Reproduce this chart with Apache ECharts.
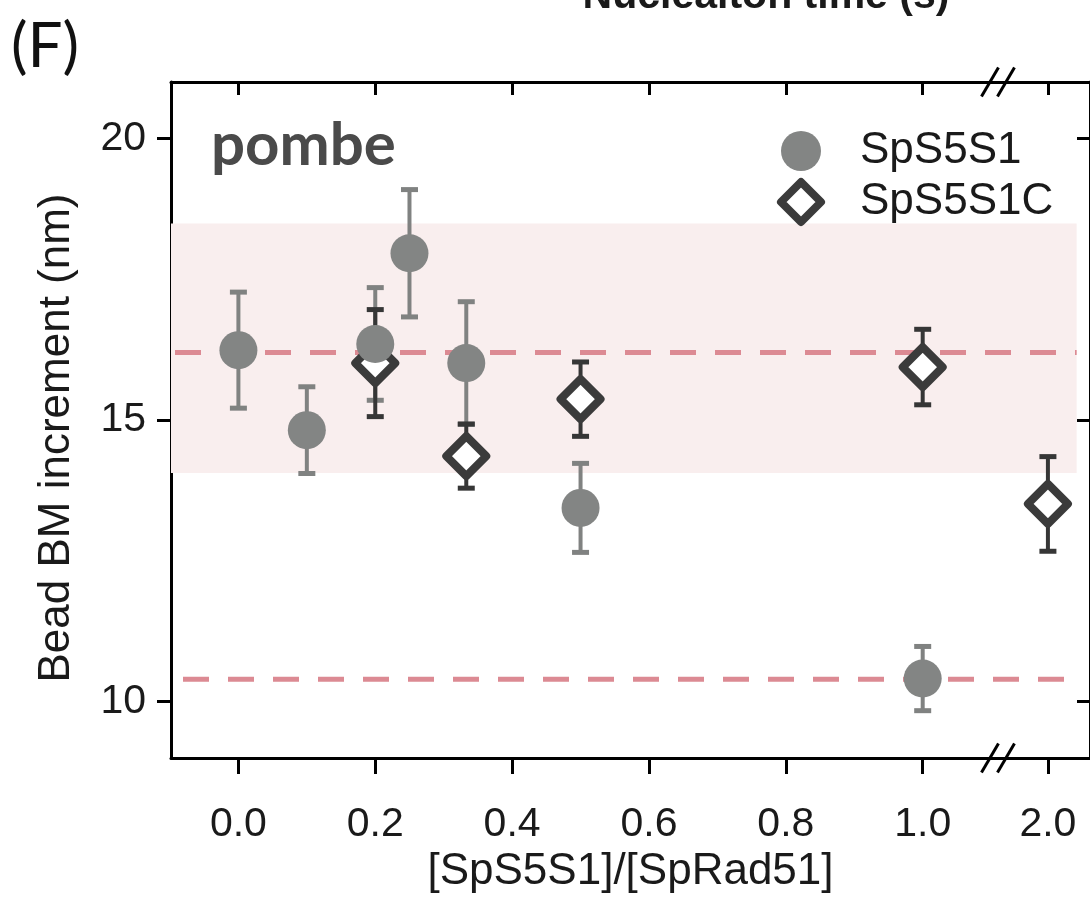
<!DOCTYPE html>
<html>
<head>
<meta charset="utf-8">
<script src="https://cdn.jsdelivr.net/npm/echarts@6/dist/echarts.min.js"></script>
<style>
  html, body { margin: 0; padding: 0; background: #ffffff; }
  #chart { width: 1090px; height: 902px; }
</style>
</head>
<body>
<div id="chart"></div>
<script>
// ---- data ----
const xTickValues = [0.0, 0.2, 0.4, 0.6, 0.8, 1.0, 2.0];
const yTickValues = [10, 15, 20];

const sps5s1X   = [0.0, 0.1, 0.2, 0.25, 0.333, 0.5, 1.0];
const sps5s1Y   = [16.24, 14.82, 16.35, 17.96, 16.01, 13.44, 10.41];
const sps5s1Err = [1.03, 0.77, 1.00, 1.13, 1.09, 0.79, 0.57];

const sps5s1cX   = [0.2, 0.333, 0.5, 1.0, 2.0];
const sps5s1cY   = [16.01, 14.36, 15.37, 15.94, 13.51];
const sps5s1cErr = [0.95, 0.57, 0.66, 0.67, 0.84];

const referenceLines = [16.2, 10.4];
const referenceBand  = [14.06, 18.49];

// ---- broken x axis: [0, 1] is linear, then the axis jumps to 2.0 ----
const X_MIN = -0.0985;
const X_MAX = 1.2445;
const SECOND_SEGMENT_AT = 1.183;   // axis position of the value 2.0
const BREAK_MARK_AT = 1.110;       // axis position of the "//" marks
const BAND_END = 2.042;            // right end of band and reference lines
function axisX(v) { return v <= 1 ? v : SECOND_SEGMENT_AT + (v - 2); }
function axisLabelOf(pos) {
  for (const v of xTickValues) { if (Math.abs(axisX(v) - pos) < 1e-6) return v.toFixed(1); }
  return '';
}
const xTickPositions = xTickValues.map(axisX);

const FONT = '"Liberation Sans", Arial, sans-serif';

function errorData(xs, ys, es) {
  return xs.map((x, i) => [axisX(x), ys[i] - es[i], ys[i] + es[i]]);
}
function pointData(xs, ys) {
  return xs.map((x, i) => [axisX(x), ys[i]]);
}

function errorBarRenderer(color) {
  return function (params, api) {
    const top = api.coord([api.value(0), api.value(2)]);
    const bot = api.coord([api.value(0), api.value(1)]);
    const cap = 8.5;
    const style = { stroke: color, lineWidth: 4 };
    return {
      type: 'group',
      children: [
        { type: 'line', shape: { x1: top[0], y1: top[1], x2: bot[0], y2: bot[1] }, style },
        { type: 'line', shape: { x1: top[0] - cap, y1: top[1], x2: top[0] + cap, y2: top[1] }, style: { stroke: color, lineWidth: 5 } },
        { type: 'line', shape: { x1: bot[0] - cap, y1: bot[1], x2: bot[0] + cap, y2: bot[1] }, style: { stroke: color, lineWidth: 5 } }
      ]
    };
  };
}

const chart = echarts.init(document.getElementById('chart'), null, { renderer: 'canvas' });

const option = {
  backgroundColor: '#ffffff',
  animation: false,
  grid: { left: 171, right: -1, top: 82, bottom: 144, containLabel: false },
  xAxis: [
    {
      type: 'value', position: 'bottom', min: X_MIN, max: X_MAX,
      name: '[SpS5S1]/[SpRad51]', nameLocation: 'middle', nameGap: 70,
      nameTextStyle: { fontSize: 44, fontFamily: FONT, color: '#1a1a1a' },
      axisLine: { show: true, onZero: false, lineStyle: { color: '#000', width: 3 } },
      axisTick: { show: true, inside: false, length: 16, customValues: xTickPositions, lineStyle: { color: '#000', width: 3 } },
      axisLabel: { show: true, margin: 46, fontSize: 41, fontFamily: FONT, color: '#1a1a1a',
                   customValues: xTickPositions, formatter: axisLabelOf },
      splitLine: { show: false }
    },
    {
      type: 'value', position: 'top', min: X_MIN, max: X_MAX,
      axisLine: { show: true, onZero: false, lineStyle: { color: '#000', width: 3 } },
      axisTick: { show: true, inside: true, length: 13, customValues: xTickPositions, lineStyle: { color: '#000', width: 3 } },
      axisLabel: { show: false },
      splitLine: { show: false }
    }
  ],
  yAxis: [
    {
      type: 'value', position: 'left', min: 9, max: 21,
      name: 'Bead BM increment (nm)', nameLocation: 'middle', nameGap: 92,
      nameTextStyle: { fontSize: 44, fontFamily: FONT, color: '#1a1a1a', padding: [0, 36, 0, 0] },
      axisLine: { show: true, onZero: false, lineStyle: { color: '#000', width: 3 } },
      axisTick: { show: true, inside: false, length: 14, customValues: yTickValues, lineStyle: { color: '#000', width: 3 } },
      axisLabel: { show: true, margin: 25, fontSize: 41, fontFamily: FONT, color: '#1a1a1a', customValues: yTickValues },
      splitLine: { show: false }
    },
    {
      type: 'value', position: 'right', min: 9, max: 21,
      axisLine: { show: true, onZero: false, lineStyle: { color: '#000', width: 3 } },
      axisTick: { show: true, inside: true, length: 13, customValues: yTickValues, lineStyle: { color: '#000', width: 3 } },
      axisLabel: { show: false },
      splitLine: { show: false }
    }
  ],
  legend: {
    orient: 'vertical', left: 777, top: 129, padding: 0,
    itemWidth: 40, itemHeight: 40, itemGap: 5,
    textStyle: { fontSize: 44, fontFamily: FONT, color: '#1a1a1a', padding: [0, 0, 0, 34] },
    data: [
      { name: 'SpS5S1' },
      { name: 'SpS5S1C', itemStyle: { borderWidth: 8, borderColor: '#3b3b3b', color: '#ffffff' } }
    ]
  },
  graphic: [
    { type: 'text', left: 11, top: 16, style: { text: '(F)', font: '62px Lato, "Open Sans", sans-serif', fill: '#111' } },
    { type: 'text', x: 211, y: 176, style: { text: 'pombe', font: 'bold 60px Lato, "Open Sans", sans-serif', fill: '#4a4a4a', verticalAlign: 'bottom' } },
    { type: 'text', x: 766, y: -3, style: { text: 'Nucleaiton time (s)', font: 'bold 41px ' + FONT, fill: '#1a1a1a', align: 'center', verticalAlign: 'middle' } }
  ],
  series: [
    {
      // shaded reference band
      type: 'custom', name: 'band', silent: true, z: 1,
      data: [[X_MIN, referenceBand[0], axisX(BAND_END), referenceBand[1]]],
      renderItem: function (params, api) {
        const p0 = api.coord([api.value(0), api.value(1)]);
        const p1 = api.coord([api.value(2), api.value(3)]);
        return { type: 'rect', shape: { x: p0[0], y: p1[1], width: p1[0] - p0[0], height: p0[1] - p1[1] },
                 style: { fill: '#f9eeee' } };
      }
    },
    {
      // dashed reference levels
      type: 'custom', name: 'levels', silent: true, z: 2,
      data: referenceLines.map((v, i) => [X_MIN, axisX(BAND_END), v, i]),
      renderItem: function (params, api) {
        const a = api.coord([api.value(0), api.value(2)]);
        const b = api.coord([api.value(1), api.value(2)]);
        return { type: 'line', shape: { x1: a[0] + 1, y1: a[1], x2: b[0], y2: b[1] },
                 style: { stroke: '#dc8a93', lineWidth: 5, lineDash: [26, 19], lineDashOffset: api.value(3) === 0 ? 42 : 34 } };
      }
    },
    {
      // axis break marks
      type: 'custom', name: 'breaks', silent: true, z: 10,
      data: [[BREAK_MARK_AT]],
      renderItem: function (params, api) {
        const cs = params.coordSys;
        const cx = api.coord([api.value(0), 15])[0];
        const kids = [];
        [cs.y, cs.y + cs.height].forEach(function (yy) {
          [-8, 8].forEach(function (off) {
            kids.push({ type: 'line', shape: { x1: cx + off - 8.5, y1: yy + 14.5, x2: cx + off + 8.5, y2: yy - 14.5 },
                        style: { stroke: '#000', lineWidth: 3 } });
          });
        });
        return { type: 'group', children: kids };
      }
    },
    {
      type: 'custom', name: 'SpS5S1 error', silent: true, z: 3,
      data: errorData(sps5s1X, sps5s1Y, sps5s1Err),
      renderItem: errorBarRenderer('#808281')
    },
    {
      type: 'custom', name: 'SpS5S1C error', silent: true, z: 3,
      data: errorData(sps5s1cX, sps5s1cY, sps5s1cErr),
      renderItem: errorBarRenderer('#363636')
    },
    {
      type: 'scatter', name: 'SpS5S1C', z: 4,
      symbol: 'diamond', symbolSize: 40,
      itemStyle: { color: '#ffffff', borderColor: '#3b3b3b', borderWidth: 8, borderJoin: 'round', opacity: 1 },
      data: pointData(sps5s1cX, sps5s1cY)
    },
    {
      type: 'scatter', name: 'SpS5S1', z: 5,
      symbol: 'circle', symbolSize: 38,
      itemStyle: { color: '#838584', opacity: 1 },
      data: pointData(sps5s1X, sps5s1Y)
    }
  ]
};

chart.setOption(option);
</script>
</body>
</html>
